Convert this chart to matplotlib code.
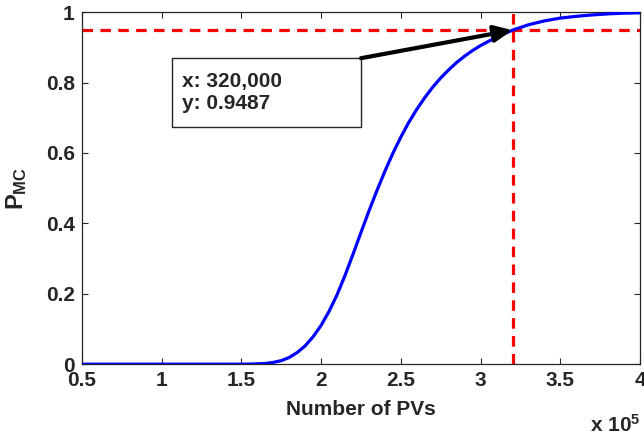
import numpy as np
import matplotlib
matplotlib.use("Agg")
import matplotlib.pyplot as plt
from matplotlib.patches import Rectangle

plt.rcParams['font.family'] = ['Liberation Sans', 'DejaVu Sans']
plt.rcParams['font.weight'] = 'bold'
plt.rcParams['mathtext.fontset'] = 'custom'
plt.rcParams['mathtext.bf'] = 'Liberation Sans:bold'
plt.rcParams['mathtext.rm'] = 'Liberation Sans:bold'
plt.rcParams['mathtext.default'] = 'bf'

# number of PVs (x 10^5) and probability P_MC
n_pv = [0.5, 1.0, 1.5, 1.55, 1.6, 1.65, 1.7, 1.75, 1.8, 1.85, 1.9, 1.95,
        2.0, 2.05, 2.1, 2.15, 2.2, 2.25, 2.3, 2.35, 2.4, 2.45, 2.5, 2.55,
        2.6, 2.65, 2.7, 2.75, 2.8, 2.85, 2.9, 2.95, 3.0, 3.1, 3.2, 3.3,
        3.4, 3.5, 3.6, 3.7, 3.8, 3.9, 4.0]
p_mc = [0.0, 0.0, 0.0, 0.0003, 0.001, 0.002, 0.005, 0.010, 0.019, 0.033,
        0.052, 0.078, 0.110, 0.150, 0.197, 0.252, 0.312, 0.374, 0.435,
        0.493, 0.548, 0.599, 0.645, 0.687, 0.724, 0.757, 0.787, 0.813,
        0.836, 0.857, 0.875, 0.891, 0.905, 0.929, 0.9487, 0.964, 0.975,
        0.983, 0.988, 0.992, 0.995, 0.997, 0.998]

# marked point
mark_x = 3.2
mark_y = 0.9487
mark_text = "x: 320,000\ny: 0.9487"

xticks = [0.5, 1, 1.5, 2, 2.5, 3, 3.5, 4]
xticklabels = ["0.5", "1", "1.5", "2", "2.5", "3", "3.5", "4"]
yticks = [0, 0.2, 0.4, 0.6, 0.8, 1]
yticklabels = ["0", "0.2", "0.4", "0.6", "0.8", "1"]

dark = "#262626"

fig = plt.figure(figsize=(6.44, 4.32), dpi=100)
ax = fig.add_axes([0.127, 0.157, 0.867, 0.815])

ax.plot(n_pv, p_mc, color="blue", lw=2.3, zorder=3)
ax.axhline(mark_y, color="red", lw=2.3, dashes=(3.3, 2.3), zorder=2)
ax.axvline(mark_x, color="red", lw=2.3, dashes=(3.3, 2.3), zorder=2)

ax.set_xlim(0.5, 4)
ax.set_ylim(0, 1)
ax.set_xticks(xticks)
ax.set_xticklabels(xticklabels)
ax.set_yticks(yticks)
ax.set_yticklabels(yticklabels)
ax.tick_params(direction="in", length=4, width=0.8, colors=dark,
               labelsize=15, top=True, right=True, pad=5)
for sp in ax.spines.values():
    sp.set_color(dark)
    sp.set_linewidth(0.9)

ax.set_xlabel("Number of PVs", fontsize=15, fontweight="bold", color=dark,
              labelpad=7)
ax.set_ylabel(r"$\mathbf{P_{MC}}$", fontsize=17, color=dark, labelpad=12)
ax.text(1.0, -0.14, r"x 10$^{5}$", transform=ax.transAxes, ha="right",
        va="top", fontsize=15, color=dark)

# data tip box
bx0, by0, bx1, by1 = 1.066, 0.673, 2.25, 0.869
ax.add_patch(Rectangle((bx0, by0), bx1 - bx0, by1 - by0, facecolor="white",
                       edgecolor=dark, lw=1.0, zorder=5))
ax.text(bx0 + 0.065, (by0 + by1) / 2, mark_text, ha="left", va="center",
        fontsize=15, color=dark, linespacing=1.2, zorder=6)
ax.annotate("", xy=(mark_x, mark_y), xytext=(bx1, by1),
            arrowprops=dict(arrowstyle="-|>,head_length=1.1,head_width=0.5",
                            color="black", lw=3, shrinkA=0, shrinkB=0),
            zorder=6)

fig.savefig("out.png", dpi=100)
